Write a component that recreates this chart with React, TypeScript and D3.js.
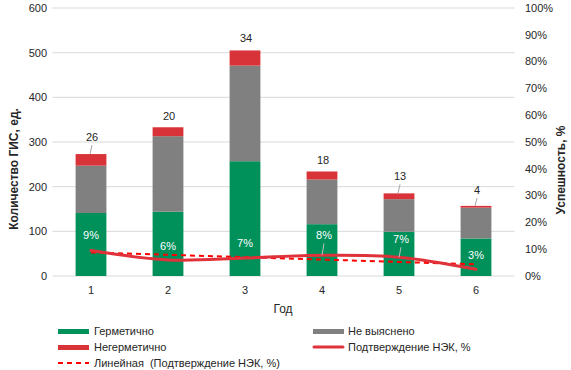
import React from "react";
import * as d3 from "d3";

const years = ["1", "2", "3", "4", "5", "6"];
const hermetic = [141, 144, 257, 116, 99, 84];
const unknown = [106, 169, 214, 100, 73, 69];
const leaky = [26, 20, 34, 18, 13, 4];
const confirmPct = [9.5, 6.0, 6.7, 7.7, 7.0, 2.5];
const confirmLabels = ["9%", "6%", "7%", "8%", "7%", "3%"];
const trendYears = ["1", "6"];
const trendPct = [8.8, 4.35];
const leftTicks = [0, 100, 200, 300, 400, 500, 600];
const rightTicks = [0, 10, 20, 30, 40, 50, 60, 70, 80, 90, 100];

const W = 571;
const H = 370;
const FONT = "Arial, 'Liberation Sans', sans-serif";
const GREEN = "#00905a";
const GRAY = "#808080";
const RED = "#d9333a";
const LINE_RED = "#e0323a";
const TEXT = "#262626";

// layout tweaks for data labels (px above anchor, and whether a leader is drawn)
const countLift = [17, 11, 12, 11, 17, 16];
const countLeader = [true, false, false, false, true, true];
const pctLift = [15, 14, 15, 20, 18, 14];
const pctLeader = [false, false, false, true, true, false];

export default function App() {
  const x = d3
    .scaleBand<string>()
    .domain(years)
    .range([52.5, 514.5])
    .paddingInner(0.6)
    .paddingOuter(0.3);
  const y = d3.scaleLinear().domain([0, 600]).range([276, 8]);
  const y2 = d3.scaleLinear().domain([0, 100]).range([276, 8]);
  const cx = (yr: string) => (x(yr) ?? 0) + x.bandwidth() / 2;

  const stacked = years.map((yr, i) => {
    const g1 = hermetic[i];
    const u1 = g1 + unknown[i];
    const r1 = u1 + leaky[i];
    return { yr, segs: [[0, g1, GREEN], [g1, u1, GRAY], [u1, r1, RED]] as [number, number, string][], top: r1 };
  });

  const line = d3
    .line<number>()
    .x((_, i) => cx(years[i]))
    .y((d) => y2(d))
    .curve(d3.curveCatmullRom.alpha(0.5));

  const trend = d3
    .line<number>()
    .x((_, i) => cx(trendYears[i]))
    .y((d) => y2(d));

  return (
    <svg width={W} height={H} style={{ position: "absolute", left: 0, top: 0, fontFamily: FONT }}>
      <rect width={W} height={H} fill="#fff" />
      {leftTicks.map((t) => (
        <line key={"g" + t} x1={52.5} x2={514.5} y1={y(t)} y2={y(t)} stroke="#d9d9d9" strokeWidth={1} />
      ))}
      {leftTicks.map((t) => (
        <text key={"l" + t} x={47} y={y(t)} dy="0.35em" textAnchor="end" fontSize={11} fill={TEXT}>
          {t}
        </text>
      ))}
      {rightTicks.map((t) => (
        <text key={"r" + t} x={525} y={y2(t)} dy="0.35em" textAnchor="start" fontSize={11} fill={TEXT}>
          {t + "%"}
        </text>
      ))}
      {years.map((yr) => (
        <text key={"x" + yr} x={cx(yr)} y={290} dy="0.35em" textAnchor="middle" fontSize={11} fill={TEXT}>
          {yr}
        </text>
      ))}
      <text x={283} y={309} dy="0.35em" textAnchor="middle" fontSize={12} fill={TEXT}>
        Год
      </text>
      <text
        transform={`translate(14,169) rotate(-90)`}
        textAnchor="middle"
        dy="0.35em"
        fontSize={12}
        fontWeight="bold"
        fill={TEXT}
      >
        Количество ГИС, ед.
      </text>
      <text
        transform={`translate(561,170) rotate(-90)`}
        textAnchor="middle"
        dy="0.35em"
        fontSize={12}
        fontWeight="bold"
        fill={TEXT}
      >
        Успешность, %
      </text>

      {stacked.map((s) =>
        s.segs.map(([a, b, c], j) => (
          <rect
            key={s.yr + "-" + j}
            x={x(s.yr)}
            width={x.bandwidth()}
            y={y(b)}
            height={y(a) - y(b)}
            fill={c}
          />
        ))
      )}

      <path d={trend(trendPct) ?? ""} fill="none" stroke="#ff0000" strokeWidth={2} strokeDasharray="5,4" />
      <path d={line(confirmPct) ?? ""} fill="none" stroke={LINE_RED} strokeWidth={3} strokeLinecap="round" />

      {stacked.map((s, i) => {
        const ty = y(s.top);
        const ly = ty - countLift[i];
        return (
          <g key={"c" + s.yr}>
            {countLeader[i] && (
              <line x1={cx(s.yr) + 1} y1={ly + 8} x2={cx(s.yr) - 1} y2={ty} stroke="#a6a6a6" strokeWidth={1} />
            )}
            <text x={cx(s.yr) + 1} y={ly} dy="0.35em" textAnchor="middle" fontSize={11} fill={TEXT}>
              {leaky[i]}
            </text>
          </g>
        );
      })}

      {confirmPct.map((v, i) => {
        const py = y2(v);
        const ly = py - pctLift[i];
        const px = cx(years[i]);
        return (
          <g key={"p" + i}>
            {pctLeader[i] && (
              <line x1={px + 2} y1={ly + 8} x2={px} y2={py} stroke="#bfbfbf" strokeWidth={1} />
            )}
            <text x={px + (pctLeader[i] ? 2 : 0)} y={ly} dy="0.35em" textAnchor="middle" fontSize={11} fill="#fff">
              {confirmLabels[i]}
            </text>
          </g>
        );
      })}

      <g fontSize={11} fill={TEXT}>
        <rect x={58} y={329} width={31} height={5} fill={GREEN} />
        <text x={94} y={331} dy="0.35em">Герметично</text>
        <rect x={313} y={329} width={31} height={5} fill={GRAY} />
        <text x={348} y={331} dy="0.35em">Не выяснено</text>
        <rect x={58} y={345} width={31} height={5} fill={RED} />
        <text x={94} y={347} dy="0.35em">Негерметично</text>
        <line x1={314} x2={343} y1={347} y2={347} stroke={LINE_RED} strokeWidth={3} strokeLinecap="round" />
        <text x={348} y={347} dy="0.35em">Подтверждение НЭК, %</text>
        <line x1={58} x2={89} y1={363} y2={363} stroke="#ff0000" strokeWidth={2} strokeDasharray="5,4" />
        <text x={94} y={363} dy="0.35em" style={{ whiteSpace: "pre" }}>
          {"Линейная  (Подтверждение НЭК, %)"}
        </text>
      </g>
    </svg>
  );
}
